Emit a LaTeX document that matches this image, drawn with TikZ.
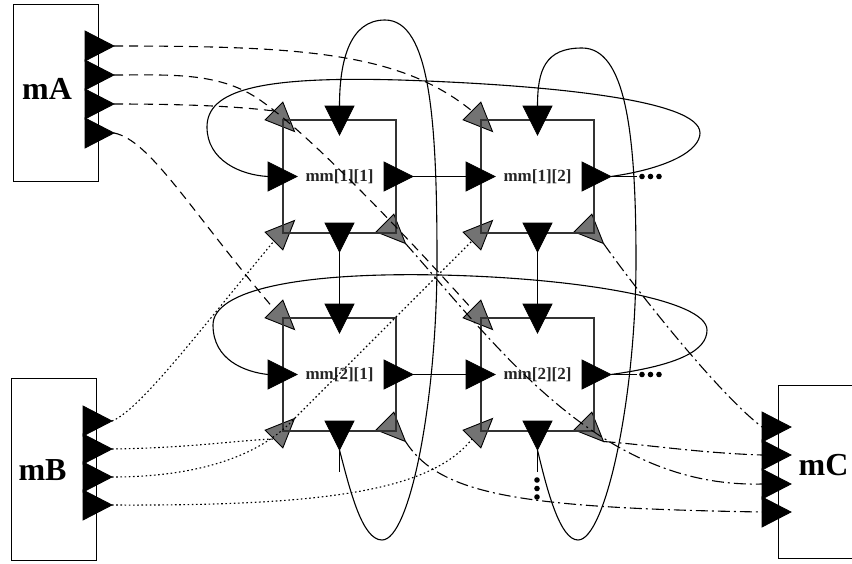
\documentclass[tikz,border=0pt]{standalone}
\usepackage{fontspec}
\setmainfont{Liberation Serif}
\usetikzlibrary{calc}
\tikzset{
	cell/.style={draw=black!80, line width=1.1pt, minimum size=113pt, inner sep=0pt, text=black!85, font=\fontsize{17}{18}\selectfont\bfseries},
	module/.style={draw, line width=1pt, inner sep=0pt},
	modname/.style={inner sep=0pt, font=\fontsize{32}{34}\selectfont\bfseries},
	wire/.style={line width=1.1pt},
	dashA/.style={line width=1.1pt, dash pattern=on 9pt off 6pt},
	dotB/.style={line width=1.1pt, dash pattern=on 1.6pt off 2.6pt},
	dashdotC/.style={line width=1.1pt, dash pattern=on 12pt off 4pt on 2pt off 4pt},
	blk/.style={draw, line width=0.8pt, fill=black},
	gry/.style={draw, line width=0.9pt, fill=black!55},
}
% port triangle: [style](base)(angle:half width:name), tip is name-t
\def\port[#1](#2)(#3:#4:#5){\begin{scope}[shift={(#2)},rotate=#3]
	\draw[#1] (0,-#4) -- (29,0) -- (0,#4) -- cycle;
	\coordinate (#5) at (0,0); \coordinate (#5-t) at (29,0);
	\end{scope}}

\begin{document}
\begin{tikzpicture}[x=1pt,y=-1pt]
		%%%%% START %%%%%
		\clip (0,0) rectangle (852,563);
		
		\node[module, minimum width=85, minimum height=177] (mA) at (55.5,92.5) {};
		\node[modname] (mA-name) at (47,89) {mA};
		\node[module, minimum width=85, minimum height=182] (mB) at (53.5,469) {};
		\node[modname] (mB-name) at (42.5,470) {mB};
		\node[module, minimum width=92, minimum height=173] (mC) at (824,471.5) {};
		\node[modname] (mC-name) at (823.5,465) {mC};
		
		\port[blk](85,46)(0:15:mA1);
		\port[blk](85,75)(0:15:mA2);
		\port[blk](85,104)(0:15:mA3);
		\port[blk](85,133)(0:15:mA4);
		
		\port[blk](83,421)(0:15:mB1);
		\port[blk](83,449)(0:15:mB2);
		\port[blk](83,477)(0:15:mB3);
		\port[blk](83,505)(0:15:mB4);
		
		\port[blk](762,427)(0:15:mC1);
		\port[blk](762,455)(0:15:mC2);
		\port[blk](762,484)(0:15:mC3);
		\port[blk](762,512)(0:15:mC4);
		
		% gray corner ports
		\port[gry](274,111)(-45:12.5:mm11-tl);
		\port[gry](274,241)(45:12.5:mm11-bl);
		\port[gry](385,223)(-45:12.5:mm11-br);
		\port[gry](472,111)(-45:12.5:mm12-tl);
		\port[gry](472,241)(45:12.5:mm12-bl);
		\port[gry](583,223)(-45:12.5:mm12-br);
		\port[gry](274,309)(-45:12.5:mm21-tl);
		\port[gry](274,439)(45:12.5:mm21-bl);
		\port[gry](385,421)(-45:12.5:mm21-br);
		\port[gry](472,309)(-45:12.5:mm22-tl);
		\port[gry](472,439)(45:12.5:mm22-bl);
		\port[gry](583,421)(-45:12.5:mm22-br);
		
		\node[cell] (mm11) at (339.5,176.5) {mm[1][1]};
		\node[cell] (mm12) at (537.5,176.5) {mm[1][2]};
		\node[cell] (mm21) at (339.5,374.5) {mm[2][1]};
		\node[cell] (mm22) at (537.5,374.5) {mm[2][2]};
		
		\port[blk](339.5,106)(-90:14.5:mm11-top);
		\port[blk](268,176.5)(0:14.5:mm11-left);
		\port[blk](384,176.5)(0:14.5:mm11-right);
		\port[blk](339.5,223)(-90:14.5:mm11-bot);
		\port[blk](537.5,106)(-90:14.5:mm12-top);
		\port[blk](466,176.5)(0:14.5:mm12-left);
		\port[blk](582,176.5)(0:14.5:mm12-right);
		\port[blk](537.5,223)(-90:14.5:mm12-bot);
		\port[blk](339.5,304)(-90:14.5:mm21-top);
		\port[blk](268,374.5)(0:14.5:mm21-left);
		\port[blk](384,374.5)(0:14.5:mm21-right);
		\port[blk](339.5,421)(-90:14.5:mm21-bot);
		\port[blk](537.5,304)(-90:14.5:mm22-top);
		\port[blk](466,374.5)(0:14.5:mm22-left);
		\port[blk](582,374.5)(0:14.5:mm22-right);
		\port[blk](537.5,421)(-90:14.5:mm22-bot);
		
		% mesh links
		\draw[wire] (mm11-right-t) -- (mm12-left);
		\draw[wire] (mm21-right-t) -- (mm22-left);
		\draw[wire] (mm11-bot-t) -- (mm21-top);
		\draw[wire] (mm12-bot-t) -- (mm22-top);
		
		% wrap around
		\draw[wire] (mm12-right-t) .. controls (670,168) and (700,150) .. (700,133) .. controls (700,100) and (550,85) .. (400,80) .. controls (260,76) and (207,90) .. (207,127) .. controls (207,160) and (240,175) .. (mm11-left);
		\draw[wire] (mm22-right-t) .. controls (680,365) and (707,350) .. (707,330) .. controls (707,300) and (580,278) .. (440,275) .. controls (300,272) and (213,290) .. (213,325) .. controls (213,360) and (245,372) .. (mm21-left);
		\draw[wire] (mm21-bot-t) .. controls (350,490) and (362,540) .. (382,540) .. controls (410,540) and (437,400) .. (437,260) .. controls (437,120) and (430,20) .. (385,20) .. controls (350,20) and (339.5,60) .. (mm11-top);
		\draw[wire] (mm22-bot-t) .. controls (547,490) and (560,540) .. (578,540) .. controls (605,540) and (636,400) .. (636,260) .. controls (636,130) and (625,48) .. (582,48) .. controls (545,48) and (537.5,70) .. (mm12-top);
		
		% more to come
		\coordinate (mm12-more) at (637,176.5);
		\coordinate (mm22-more) at (637,374.5);
		\coordinate (mm21-more) at (339.5,472);
		\coordinate (mm22-down) at (537.5,472);
		\draw[wire] (mm12-right-t) -- (mm12-more);
		\draw[wire] (mm22-right-t) -- (mm22-more);
		\draw[wire] (mm21-bot-t) -- (mm21-more);
		\draw[wire] (mm22-bot-t) -- (mm22-down);
		\fill (642,176.5) circle (2.8) (650.5,176.5) circle (2.8) (659,176.5) circle (2.8);
		\fill (642,374.5) circle (2.8) (650.5,374.5) circle (2.8) (659,374.5) circle (2.8);
		\fill (537,480) circle (2.8) (537,488.5) circle (2.8) (537,497) circle (2.8);
		
		% mA
		\draw[dashA] (mA1-t) .. controls (300,46) and (400,52) .. (mm12-tl);
		\draw[dashA] (mA2-t) .. controls (170,75) and (217,72) .. (257,98) .. controls (307,131) and (410,240) .. (mm22-tl);
		\draw[dashA] (mA3-t) .. controls (180,104) and (235,106) .. (mm11-tl);
		\draw[dashA] (mA4-t) .. controls (150,140) and (190,210) .. (mm21-tl);
		
		% mB
		\draw[dotB] (mB1-t) .. controls (140,410) and (200,330) .. (mm11-bl);
		\draw[dotB] (mB2-t) .. controls (190,448) and (240,440) .. (mm21-bl);
		\draw[dotB] (mB3-t) .. controls (200,477) and (260,455) .. (293,420) -- (mm12-bl);
		\draw[dotB] (mB4-t) .. controls (320,506) and (430,492) .. (mm22-bl);
		
		% mC
		\draw[dashdotC] (mm12-br-t) .. controls (640,295) and (720,395) .. (mC1);
		\draw[dashdotC] (mm22-br-t) .. controls (650,445) and (700,453) .. (mC2);
		\draw[dashdotC] (mm11-br-t) .. controls (500,350) and (600,488) .. (mC3);
		\draw[dashdotC] (mm21-br-t) .. controls (440,495) and (520,508) .. (mC4);
		%%%%% END %%%%%
	\end{tikzpicture}
\end{document}
